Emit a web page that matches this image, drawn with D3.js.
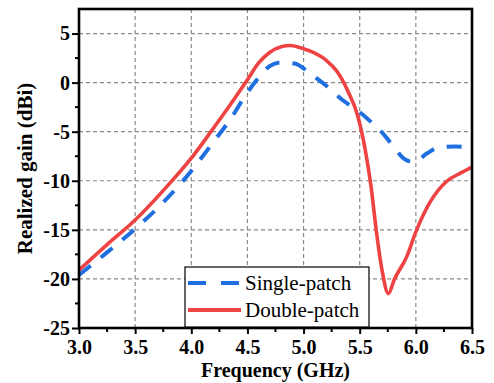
<!DOCTYPE html>
<html>
<head>
<meta charset="utf-8">
<script src="https://cdn.jsdelivr.net/npm/d3@7"></script>
</head>
<body style="margin:0">
<svg id="chart" width="494" height="383"></svg>
<script>
// Realized gain vs frequency
const freqSingle = [3.0, 3.25, 3.5, 3.75, 4.0, 4.2, 4.35, 4.5, 4.6, 4.7, 4.8, 4.92, 5.05, 5.2, 5.35, 5.5, 5.6, 5.7, 5.8, 5.9, 5.98, 6.1, 6.2, 6.35, 6.5];
const gainSingle = [-19.6, -17.3, -14.9, -12.2, -9.0, -6.0, -3.7, -1.0, 0.5, 1.7, 2.05, 1.95, 1.0, -0.3, -1.8, -3.0, -4.0, -5.1, -6.5, -7.8, -8.1, -7.2, -6.6, -6.5, -6.7];

const freqDouble = [3.0, 3.25, 3.5, 3.75, 4.0, 4.2, 4.35, 4.5, 4.6, 4.7, 4.8, 4.88, 5.0, 5.1, 5.2, 5.3, 5.4, 5.48, 5.55, 5.6, 5.65, 5.7, 5.755, 5.81, 5.92, 6.0, 6.12, 6.27, 6.4, 6.5];
const gainDouble = [-19.1, -16.5, -14.0, -11.0, -7.7, -4.6, -2.2, 0.3, 2.0, 3.1, 3.65, 3.78, 3.45, 3.0, 2.3, 1.1, -1.0, -3.3, -6.9, -10.5, -15.3, -19.2, -21.5, -20.0, -17.7, -15.2, -12.3, -10.1, -9.2, -8.6];

const xTicks = [3.0, 3.5, 4.0, 4.5, 5.0, 5.5, 6.0, 6.5];
const yTicks = [-25, -20, -15, -10, -5, 0, 5];
const seriesNames = ['Single-patch', 'Double-patch'];

const W = 494, H = 383;
const margin = { top: 9, right: 22, bottom: 55, left: 79 };
const width = W - margin.left - margin.right;
const height = H - margin.top - margin.bottom;

const blue = '#1f6fe0';
const red = '#ef4242';
const serif = 'Liberation Serif, Tinos, Times New Roman, DejaVu Serif, serif';

const svg = d3.select('#chart').attr('font-family', serif);
const g = svg.append('g').attr('transform', `translate(${margin.left},${margin.top})`);

const x = d3.scaleLinear().domain([3.0, 6.5]).range([0, width]);
const y = d3.scaleLinear().domain([-25, 7.5]).range([height, 0]);

// grid
g.append('g').selectAll('line')
  .data(xTicks.slice(1, -1))
  .enter().append('line')
  .attr('x1', d => x(d)).attr('x2', d => x(d))
  .attr('y1', 0).attr('y2', height)
  .attr('stroke', '#8a8a8a').attr('stroke-width', 1.2).attr('stroke-dasharray', '4,3');

g.append('g').selectAll('line')
  .data(yTicks.slice(1))
  .enter().append('line')
  .attr('x1', 0).attr('x2', width)
  .attr('y1', d => y(d)).attr('y2', d => y(d))
  .attr('stroke', '#8a8a8a').attr('stroke-width', 1.2).attr('stroke-dasharray', '4,3');

// curves
const line = d3.line().curve(d3.curveMonotoneX);

g.append('path')
  .attr('d', line(freqSingle.map((f, i) => [x(f), y(gainSingle[i])])))
  .attr('fill', 'none').attr('stroke', blue).attr('stroke-width', 4)
  .attr('stroke-dasharray', '15,13');

g.append('path')
  .attr('d', line(freqDouble.map((f, i) => [x(f), y(gainDouble[i])])))
  .attr('fill', 'none').attr('stroke', red).attr('stroke-width', 3.6);

// minor ticks
g.append('g').selectAll('line')
  .data(d3.range(3.25, 6.5, 0.5))
  .enter().append('line')
  .attr('x1', d => x(d)).attr('x2', d => x(d))
  .attr('y1', height).attr('y2', height + 4)
  .attr('stroke', '#000').attr('stroke-width', 2);

g.append('g').selectAll('line')
  .data(d3.range(-22.5, 7.5, 5))
  .enter().append('line')
  .attr('x1', -4).attr('x2', 0)
  .attr('y1', d => y(d)).attr('y2', d => y(d))
  .attr('stroke', '#000').attr('stroke-width', 2);

// axes
const xAxis = g.append('g')
  .attr('transform', `translate(0,${height})`)
  .call(d3.axisBottom(x).tickValues(xTicks).tickFormat(d => d.toFixed(1)).tickSize(6).tickPadding(6));

const yAxis = g.append('g')
  .call(d3.axisLeft(y).tickValues(yTicks).tickFormat(d => String(d)).tickSize(7).tickPadding(2));

[xAxis, yAxis].forEach(a => {
  a.attr('font-family', serif).attr('font-size', 20).attr('font-weight', 'bold');
  a.select('.domain').remove();
  a.selectAll('.tick line').attr('stroke-width', 2);
  a.selectAll('.tick text').attr('fill', '#000');
});

// frame
g.append('rect')
  .attr('x', 0).attr('y', 0).attr('width', width).attr('height', height)
  .attr('fill', 'none').attr('stroke', '#000').attr('stroke-width', 2.6);

// titles
svg.append('text')
  .attr('x', margin.left + width / 2).attr('y', 377)
  .attr('text-anchor', 'middle')
  .attr('font-weight', 'bold').attr('font-size', 20)
  .text('Frequency (GHz)');

svg.append('text')
  .attr('transform', `translate(32,${margin.top + height / 2}) rotate(-90)`)
  .attr('text-anchor', 'middle')
  .attr('font-weight', 'bold').attr('font-size', 21)
  .text('Realized gain (dBi)');

// legend
const legend = svg.append('g').attr('transform', 'translate(185,267)');
legend.append('rect')
  .attr('width', 184).attr('height', 60)
  .attr('fill', '#fff').attr('stroke', '#000').attr('stroke-width', 1.2);

seriesNames.forEach((name, i) => {
  const ly = 16 + i * 27;
  legend.append('line')
    .attr('x1', 3).attr('x2', 56).attr('y1', ly).attr('y2', ly)
    .attr('stroke', i === 0 ? blue : red).attr('stroke-width', 4)
    .attr('stroke-dasharray', i === 0 ? '18,15' : null);
  legend.append('text')
    .attr('x', 60).attr('y', ly + 7)
    .attr('font-size', 21)
    .text(name);
});
</script>
</body>
</html>
